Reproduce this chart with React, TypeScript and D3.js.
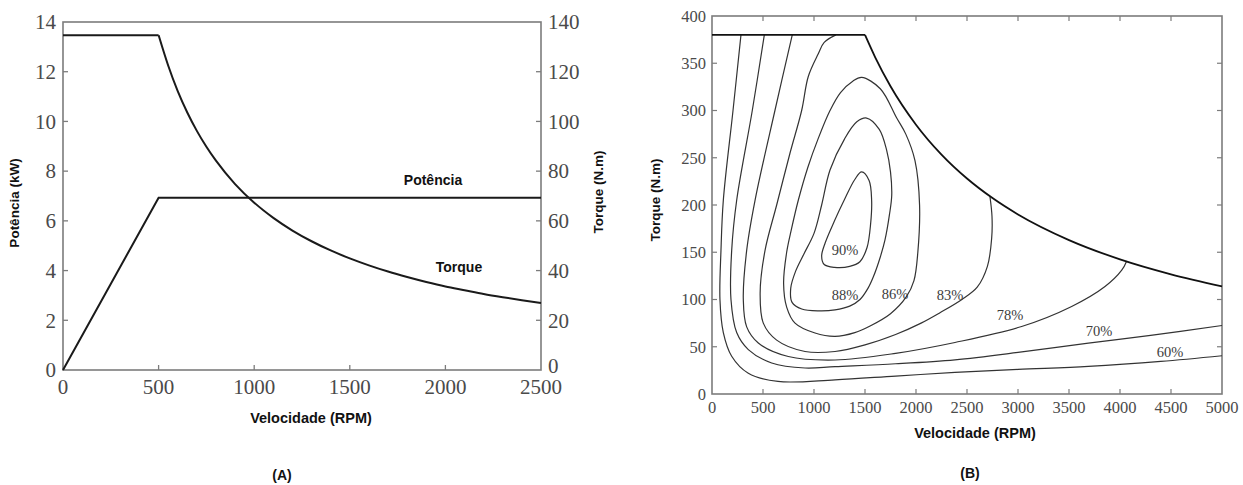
import React from "react";
import * as d3 from "d3";

// ---------- Chart A data ----------
const powerSpeed = [0, 500, 2500];
const powerKW = [0, 6.93, 6.93];
const torqueFlatSpeed = [0, 500];
const torqueFlatNm = [134.7, 134.7];
const torqueSpeedA = [500, 550, 600, 650, 700, 750, 800, 900, 1000, 1100, 1200, 1300, 1400, 1500, 1600, 1700, 1800, 1900, 2000, 2100, 2200, 2300, 2400, 2500];
const torqueNmA = [134.7, 122.5, 112.2, 103.6, 96.2, 89.8, 84.2, 74.8, 67.3, 61.2, 56.1, 51.8, 48.1, 44.9, 42.1, 39.6, 37.4, 35.4, 33.6, 32.1, 30.6, 29.3, 28.1, 27];
const xTicksA = [0, 500, 1000, 1500, 2000, 2500];
const yTicksA = [0, 2, 4, 6, 8, 10, 12, 14];
const yTicksA2 = [0, 20, 40, 60, 80, 100, 120, 140];

// ---------- Chart B data ----------
const xTicksB = [0, 500, 1000, 1500, 2000, 2500, 3000, 3500, 4000, 4500, 5000];
const yTicksB = [0, 50, 100, 150, 200, 250, 300, 350, 400];
const envelopeFlat: [number, number][] = [[0, 380], [1500, 380]];
const envelopeHyper: [number, number][] = [[1500, 380], [1600, 356.3], [1750, 325.7], [2000, 285], [2250, 253.3], [2500, 228], [2750, 207.3], [3000, 190], [3500, 162.9], [4000, 142.5], [4500, 126.7], [5000, 114]];
const c90: [number, number][] = [[1467, 235], [1400, 227], [1300, 206], [1200, 183], [1110, 160], [1075, 146], [1100, 137], [1200, 134], [1350, 135], [1450, 140], [1520, 155], [1555, 180], [1565, 205], [1540, 226]];
const c88: [number, number][] = [[1516, 292], [1420, 288], [1300, 270], [1157, 237], [1075, 200], [1000, 170], [900, 148], [820, 130], [772, 112], [785, 97], [880, 90], [1050, 88], [1206, 89], [1350, 93], [1451, 100], [1530, 112], [1582, 124], [1650, 145], [1696, 163], [1740, 190], [1762, 210], [1750, 235], [1712, 258], [1640, 280]];
const c86: [number, number][] = [[1467, 335], [1380, 331], [1260, 319], [1157, 300], [1040, 270], [940, 240], [846, 205], [780, 175], [732, 150], [702, 117], [732, 92], [814, 75], [1010, 64.5], [1206, 61], [1400, 65], [1550, 72], [1750, 85], [1906, 103], [1980, 120], [2018, 150], [2035, 200], [1990, 247], [1900, 275], [1811, 292], [1650, 323]];
const c83: [number, number][] = [[1215, 380], [1100, 372], [1042, 360], [944, 336], [879, 300], [765, 255], [634, 200], [520, 152], [472, 107], [503, 75], [634, 57], [912, 45], [1206, 45], [1500, 52], [1800, 63], [2050, 75], [2235, 86], [2450, 100], [2600, 113], [2700, 135], [2742, 165], [2745, 188], [2725, 209]];
const c78: [number, number][] = [[787, 380], [617, 300], [422, 205], [340, 152], [307, 100], [340, 71], [454, 54], [748, 39.7], [1206, 36], [1800, 43], [2382, 54.5], [3036, 71.4], [3526, 92.6], [3853, 113.7], [4017, 131], [4066, 140.8]];
const c70: [number, number][] = [[513, 380], [395, 300], [242, 205], [193, 152], [186, 100], [242, 65], [356, 47], [585, 32.8], [912, 27.5], [1206, 29], [1800, 32], [2382, 36.2], [3000, 44], [3690, 53.9], [4300, 62], [5000, 72.5]];
const c60: [number, number][] = [[284, 380], [206, 300], [111, 205], [88, 152], [78, 100], [111, 65], [193, 40], [356, 22], [647, 13.3], [1206, 15], [1800, 19], [2382, 22.8], [3000, 26], [3690, 29.2], [4400, 34.5], [5000, 40.5]];
const contourLabels = ["90%", "88%", "86%", "83%", "78%", "70%", "60%"];
const labelSpeed = [1304, 1304, 1794, 2333, 2922, 3794, 4490];
const labelTorque = [152, 105, 106, 105, 84, 67, 44];

const SERIF = "'Liberation Serif', 'DejaVu Serif', serif";
const SANS = "'Liberation Sans', Arial, sans-serif";
const AXIS = "#7c7c7c";
const TXT = "#4a4a4a";

export default function App() {
  // scales A
  const xA = d3.scaleLinear().domain([0, 2500]).range([63, 541]);
  const yA = d3.scaleLinear().domain([0, 14]).range([370, 22]);
  const yA2 = d3.scaleLinear().domain([0, 140]).range([370, 22]);
  // scales B
  const xB = d3.scaleLinear().domain([0, 5000]).range([712, 1222]);
  const yB = d3.scaleLinear().domain([0, 400]).range([394, 16]);

  const powerLine = d3.line<number>().x((d, i) => xA(powerSpeed[i])).y((d) => yA(d));
  const torqueFlatLine = d3.line<number>().x((d, i) => xA(torqueFlatSpeed[i])).y((d) => yA2(d));
  const torqueLine = d3
    .line<number>()
    .x((d, i) => xA(torqueSpeedA[i]))
    .y((d) => yA2(d))
    .curve(d3.curveMonotoneX);

  const lineB = d3.line<[number, number]>().x((d) => xB(d[0])).y((d) => yB(d[1]));
  const openB = d3.line<[number, number]>().x((d) => xB(d[0])).y((d) => yB(d[1])).curve(d3.curveCatmullRom.alpha(0.5));
  const closedB = d3.line<[number, number]>().x((d) => xB(d[0])).y((d) => yB(d[1])).curve(d3.curveCatmullRomClosed.alpha(0.5));
  const monoB = d3.line<[number, number]>().x((d) => xB(d[0])).y((d) => yB(d[1])).curve(d3.curveMonotoneX);

  const tl = 5;
  const boldTitle = { fontFamily: SANS, fontWeight: "bold" as const, fill: "#111" };

  return (
    <svg width={1243} height={485} style={{ position: "absolute", left: 0, top: 0, background: "#fff" }}>
      {/* ================= Chart A ================= */}
      <g>
        <rect x={xA(0)} y={yA(14)} width={xA(2500) - xA(0)} height={yA(0) - yA(14)} fill="none" stroke={AXIS} strokeWidth={1.6} />
        {xTicksA.slice(1, -1).map((t) => (
          <line key={"xta" + t} x1={xA(t)} x2={xA(t)} y1={yA(0)} y2={yA(0) - tl} stroke={AXIS} strokeWidth={1.3} />
        ))}
        {yTicksA.slice(1, -1).map((t) => (
          <line key={"yta" + t} x1={xA(0)} x2={xA(0) + tl} y1={yA(t)} y2={yA(t)} stroke={AXIS} strokeWidth={1.3} />
        ))}
        {yTicksA2.slice(1, -1).map((t) => (
          <line key={"yta2" + t} x1={xA(2500)} x2={xA(2500) - tl} y1={yA2(t)} y2={yA2(t)} stroke={AXIS} strokeWidth={1.3} />
        ))}
        {xTicksA.map((t) => (
          <text key={"xla" + t} x={xA(t)} y={394} textAnchor="middle" fontFamily={SERIF} fontSize={21} fill={TXT}>
            {t}
          </text>
        ))}
        {yTicksA.map((t) => (
          <text key={"yla" + t} x={56} y={yA(t)} dy="0.35em" textAnchor="end" fontFamily={SERIF} fontSize={21} fill={TXT}>
            {t}
          </text>
        ))}
        {yTicksA2.map((t) => (
          <text key={"yla2" + t} x={548} y={yA2(t) - (t === 0 ? 4 : 0)} dy="0.35em" textAnchor="start" fontFamily={SERIF} fontSize={21} fill={TXT}>
            {t}
          </text>
        ))}
        <path d={powerLine(powerKW) || ""} fill="none" stroke="#1a1a1a" strokeWidth={2} />
        <path d={torqueFlatLine(torqueFlatNm) || ""} fill="none" stroke="#1a1a1a" strokeWidth={2} />
        <path d={torqueLine(torqueNmA) || ""} fill="none" stroke="#1a1a1a" strokeWidth={2} />
        <text x={433} y={185} textAnchor="middle" fontSize={14} {...boldTitle}>
          Potência
        </text>
        <text x={459} y={272} textAnchor="middle" fontSize={14} {...boldTitle}>
          Torque
        </text>
        <text transform="translate(19,203) rotate(-90)" textAnchor="middle" fontSize={13.5} {...boldTitle}>
          Potência (kW)
        </text>
        <text transform="translate(603,192) rotate(-90)" textAnchor="middle" fontSize={13.5} {...boldTitle}>
          Torque (N.m)
        </text>
        <text x={311} y={423} textAnchor="middle" fontSize={14.5} {...boldTitle}>
          Velocidade (RPM)
        </text>
        <text x={282} y={480} textAnchor="middle" fontSize={14} {...boldTitle}>
          (A)
        </text>
      </g>

      {/* ================= Chart B ================= */}
      <g>
        <rect x={xB(0)} y={yB(400)} width={xB(5000) - xB(0)} height={yB(0) - yB(400)} fill="none" stroke={AXIS} strokeWidth={1.6} />
        {xTicksB.slice(1, -1).map((t) => (
          <g key={"xtb" + t}>
            <line x1={xB(t)} x2={xB(t)} y1={yB(0)} y2={yB(0) - tl} stroke={AXIS} strokeWidth={1.2} />
            <line x1={xB(t)} x2={xB(t)} y1={yB(400)} y2={yB(400) + tl} stroke={AXIS} strokeWidth={1.2} />
          </g>
        ))}
        {yTicksB.slice(1, -1).map((t) => (
          <g key={"ytb" + t}>
            <line x1={xB(0)} x2={xB(0) + tl} y1={yB(t)} y2={yB(t)} stroke={AXIS} strokeWidth={1.2} />
            <line x1={xB(5000)} x2={xB(5000) - tl} y1={yB(t)} y2={yB(t)} stroke={AXIS} strokeWidth={1.2} />
          </g>
        ))}
        {xTicksB.map((t) => (
          <text key={"xlb" + t} x={xB(t)} y={412.5} textAnchor="middle" fontFamily={SERIF} fontSize={16.5} fill={TXT}>
            {t}
          </text>
        ))}
        {yTicksB.map((t) => (
          <text key={"ylb" + t} x={706} y={yB(t)} dy="0.35em" textAnchor="end" fontFamily={SERIF} fontSize={16.5} fill={TXT}>
            {t}
          </text>
        ))}
        {/* contours */}
        {[c83, c78, c70, c60].map((c, i) => (
          <path key={"open" + i} d={openB(c) || ""} fill="none" stroke="#333" strokeWidth={1.2} />
        ))}
        {[c90, c88, c86].map((c, i) => (
          <path key={"closed" + i} d={closedB(c) || ""} fill="none" stroke="#333" strokeWidth={1.2} />
        ))}
        {/* envelope */}
        <path d={lineB(envelopeFlat) || ""} fill="none" stroke="#111" strokeWidth={1.8} />
        <path d={monoB(envelopeHyper) || ""} fill="none" stroke="#111" strokeWidth={1.8} />
        {contourLabels.map((l, i) => (
          <text key={"cl" + l} x={xB(labelSpeed[i])} y={yB(labelTorque[i])} dy="0.35em" textAnchor="middle" fontFamily={SERIF} fontSize={14.5} fill="#3c3c3c">
            {l}
          </text>
        ))}
        <text transform="translate(660,200) rotate(-90)" textAnchor="middle" fontSize={13.5} {...boldTitle}>
          Torque (N.m)
        </text>
        <text x={975} y={438} textAnchor="middle" fontSize={14.5} {...boldTitle}>
          Velocidade (RPM)
        </text>
        <text x={970} y={478} textAnchor="middle" fontSize={14} {...boldTitle}>
          (B)
        </text>
      </g>
    </svg>
  );
}
